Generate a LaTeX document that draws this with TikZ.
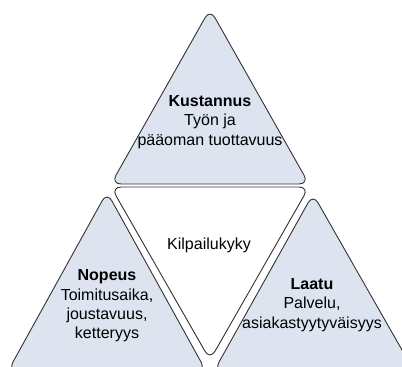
\documentclass[tikz,border=0pt]{standalone}
\usepackage{fontspec}
\setmainfont{Liberation Sans}
\definecolor{trifill}{RGB}{221,228,240}
\definecolor{triline}{RGB}{50,50,50}
\begin{document}
\begin{tikzpicture}[x=1pt,y=-1pt,
  tri/.style={draw=triline,line width=0.9pt,rounded corners=10pt,line join=round},
  lbl/.style={align=center,font=\fontsize{16}{19.3}\selectfont,inner sep=0pt}]
\path[use as bounding box] (0,0) rectangle (402,367);
\begin{scope}
\clip (0,0) rectangle (402,367);
% top triangle
\draw[tri,fill=trifill] (210,9) -- (309,184) -- (111,184) -- cycle;
% middle white triangle
\draw[tri,fill=white] (111,187) -- (309,187) -- (210,360) -- cycle;
% bottom-left triangle
\draw[tri,fill=trifill] (107,192) -- (206,371) -- (8,371) -- cycle;
% bottom-right triangle
\draw[tri,fill=trifill] (313,194) -- (414,371) -- (214,371) -- cycle;
\end{scope}
\node[lbl] (kust) at (210,122) {\textbf{Kustannus}\\Työn ja\\pääoman tuottavuus};
\node[lbl] (kilp) at (209,245) {Kilpailukyky};
\node[lbl] (nop) at (107,306) {\textbf{Nopeus}\\Toimitusaika,\\joustavuus,\\ketteryys};
\node[lbl] (laat) at (312,305) {\textbf{Laatu}\\Palvelu,\\asiakastyytyväisyys};
\end{tikzpicture}
\end{document}
